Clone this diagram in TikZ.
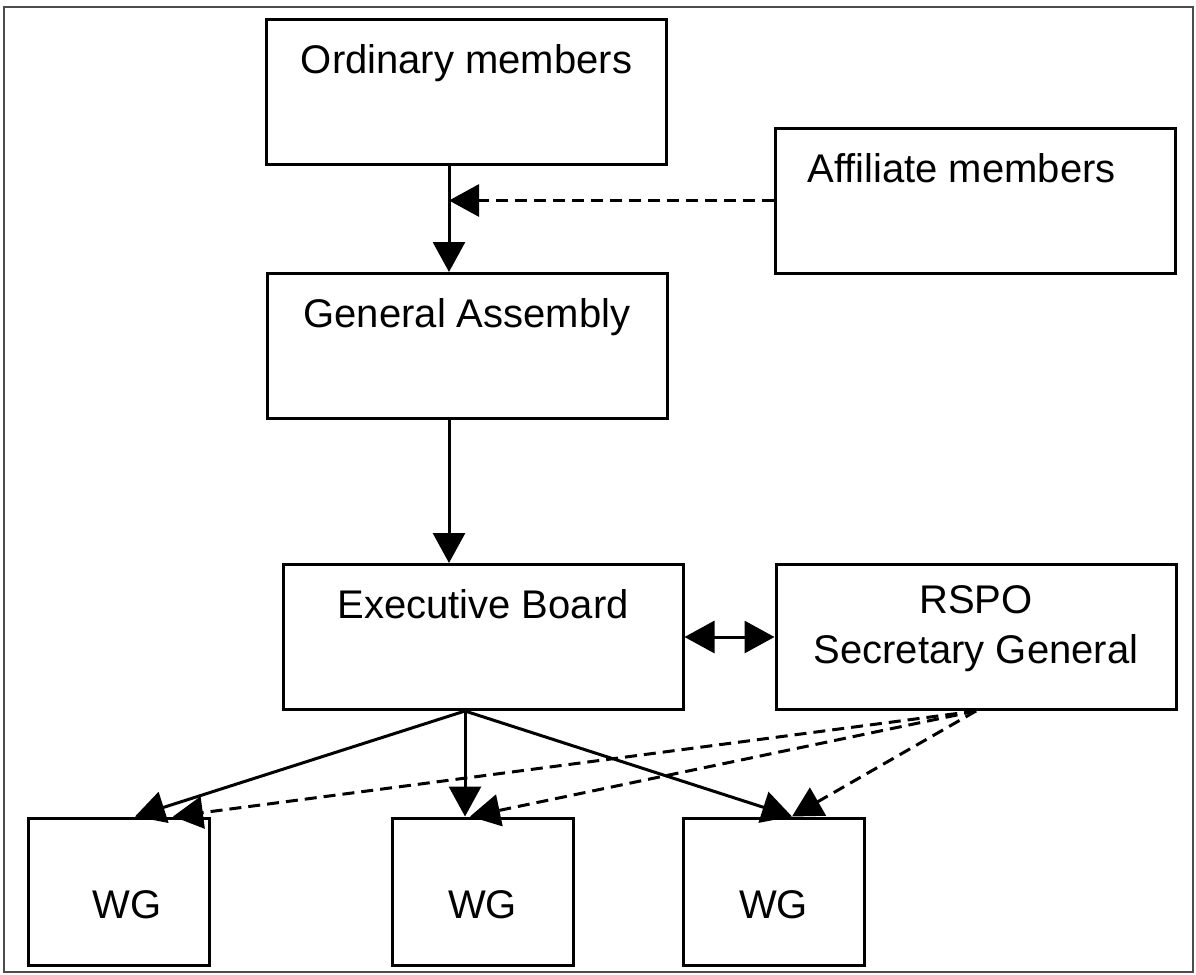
\documentclass[tikz,border=0pt]{standalone}
\usepackage{fontspec}
\setmainfont{Liberation Sans}
\usetikzlibrary{arrows.meta}

\begin{document}
\begin{tikzpicture}[x=0.5pt,y=-0.5pt,every node/.style={font=\fontsize{20}{25}\selectfont,align=center},
    orgbox/.style={draw,line width=1.5pt,minimum width=200pt,minimum height=72.5pt,inner sep=0pt,text height=14pt,text depth=32.5pt},
    wgbox/.style={draw,line width=1.5pt,minimum width=90.5pt,minimum height=73.5pt,inner sep=0pt,text height=26.5pt,text depth=0pt},
    feeds/.style={line width=1.5pt,-{Triangle[length=15pt,width=16pt]}},
    advises/.style={feeds,dash pattern=on 6pt off 3.5pt}]
      \useasboundingbox (0,0) rectangle (1196,975);
      \draw[gray!60!black,line width=0.8pt] (4,7) rectangle (1193,972);
      \node[orgbox] (om) at (466.5,92) {Ordinary members};
      \node[orgbox] (aff) at (975.5,200.5) {Affiliate members\kern14pt};
      \node[orgbox] (ga) at (467,346) {General Assembly};
      \node[orgbox] (eb) at (483,637) {Executive Board};
      \node[orgbox,label={[yshift=4pt]center:{RSPO\\Secretary General}}] (sg) at (976,637) {};
      \node[wgbox] (wg1) at (119,891.5) {\kern8pt WG};
      \node[wgbox] (wg2) at (482.5,891.5) {WG};
      \node[wgbox] (wg3) at (773.5,891.5) {WG};
      % members into the assembly
      \coordinate (spine) at ([xshift=-8.75pt]om.south);
      \coordinate (merge) at (spine |- aff.west);
      \draw[feeds] (spine) -- (spine |- ga.north);
      \draw[advises] (aff.west) -- (merge);
      \draw[feeds] (spine |- ga.south) -- (spine |- eb.north);
      \draw[line width=1.5pt,{Triangle[length=15pt,width=16pt]}-{Triangle[length=15pt,width=16pt]}] (eb.east) -- (sg.west);
      % board and secretariat to the working groups
      \coordinate (ebout) at ([xshift=-9pt]eb.south);
      \draw[feeds] (ebout) -- ([xshift=8pt]wg1.north);
      \draw[feeds] (ebout) -- (ebout |- wg2.north);
      \draw[feeds] (ebout) -- ([xshift=9.25pt]wg3.north);
      \draw[advises] (sg.south) -- ([xshift=27pt]wg1.north);
      \draw[advises] (sg.south) -- ([xshift=-6.25pt]wg2.north);
      \draw[advises] (sg.south) -- ([xshift=9.25pt]wg3.north);
\end{tikzpicture}
\end{document}
